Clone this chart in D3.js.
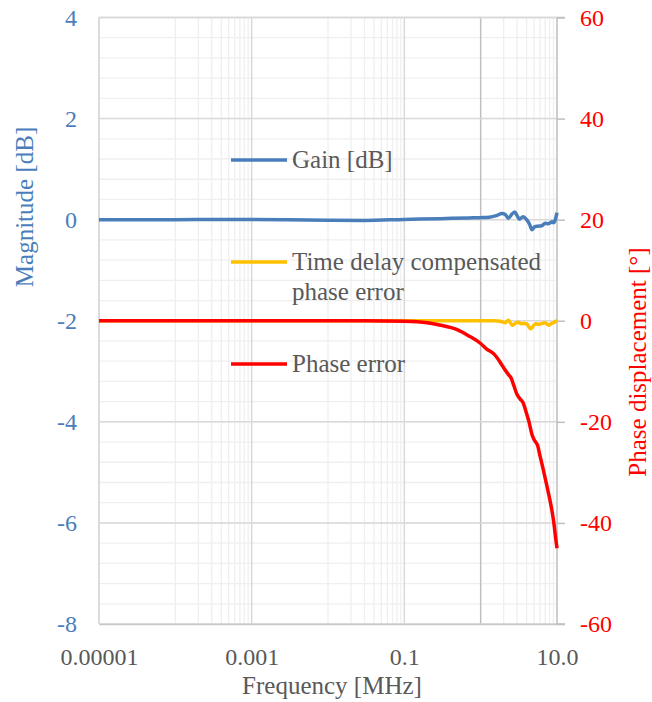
<!DOCTYPE html>
<html><head><meta charset="utf-8">
<script src="https://cdn.jsdelivr.net/npm/d3@7/dist/d3.min.js"></script>
<style>
html,body{margin:0;padding:0;background:#fff;}
svg{display:block;}
svg text{font-family:"Liberation Serif","Tinos","Times New Roman","DejaVu Serif","Noto Serif","FreeSerif",serif !important;}
</style></head>
<body><svg id="c" width="652" height="702"></svg>
<script>
// ---- data ----
const gainFreq = [1e-5, 1e-4, 1e-3, 0.003, 0.01, 0.03, 0.1, 0.3, 0.7, 1.0, 1.3, 1.6, 1.9, 2.1, 2.3, 2.6, 2.8, 3.0, 3.2, 3.6, 4.0, 4.4, 4.7, 5.1, 5.6, 6.3, 7.0, 7.6, 8.2, 8.6, 9.0, 9.5, 10.0];
const gainDb   = [0, 0, 0.005, 0, -0.01, -0.015, 0.005, 0.02, 0.035, 0.04, 0.05, 0.08, 0.12, 0.1, 0.03, 0.12, 0.15, 0.08, 0.01, 0.06, 0.0, -0.1, -0.2, -0.14, -0.13, -0.12, -0.07, -0.08, -0.06, -0.04, -0.06, 0.0, 0.14];
const compFreq = [1e-5, 1e-3, 0.1, 1.0, 1.5, 1.8, 2.1, 2.3, 2.6, 2.8, 3.1, 3.4, 3.6, 4.0, 4.5, 4.8, 5.2, 5.8, 6.5, 7.0, 7.8, 8.3, 9.0, 10.0];
const compDeg  = [0, 0, 0, 0, 0, -0.1, -0.4, 0.1, -0.9, -0.6, -0.3, -0.6, -0.5, -0.6, -1.6, -1.2, -0.6, -0.7, -0.5, -0.4, -0.9, -0.6, -0.4, 0.1];
const phaseFreq = [1e-5, 1e-3, 0.03, 0.1, 0.2, 0.3, 0.5, 0.7, 1.0, 1.2, 1.5, 1.8, 2.0, 2.3, 2.5, 2.7, 3.0, 3.3, 3.6, 4.0, 4.3, 4.7, 5.0, 5.6, 6.0, 6.6, 7.2, 7.7, 8.5, 9.1, 9.6, 10.0];
const phaseDeg  = [0, 0, 0, -0.1, -0.4, -0.9, -1.8, -3.0, -4.5, -5.6, -6.6, -8.2, -9.3, -10.6, -11.3, -12.7, -14.6, -15.5, -16.2, -18.4, -20, -22.5, -23.5, -24.8, -26.8, -29.4, -32, -34, -37.2, -40, -43, -45];
const xTickValues = [1e-5, 1e-3, 0.1, 10];
const xTickLabels = ["0.00001", "0.001", "0.1", "10.0"];
const yLeftTicks = [4, 2, 0, -2, -4, -6, -8];
const yRightTicks = [60, 40, 20, 0, -20, -40, -60];
const legendLabels = [["Gain [dB]"], ["Time delay compensated", "phase error"], ["Phase error"]];

// ---- layout ----
const L = 99, R = 557, T = 17.5, B = 624;
const blue = "#4a7ebb", yellow = "#ffc000", red = "#ff0000", grey = "#595959";
const fmt = d => String(d).replace("\u2212", "-");
const svg = d3.select("#c");
const x = d3.scaleLog().domain([1e-5, 10]).range([L, R]);
const yL = d3.scaleLinear().domain([-8, 4]).range([B, T]);
const yR = d3.scaleLinear().domain([-60, 60]).range([B, T]);

// grid
const g = svg.append("g");
const minorY = d3.range(-8, 4.0001, 0.4).map(v => +v.toFixed(1));
g.selectAll(".hm").data(minorY).enter().append("line")
  .attr("x1", L).attr("x2", R).attr("y1", d => yL(d)).attr("y2", d => yL(d))
  .attr("stroke", "#efefef").attr("stroke-width", 1.3);
const minorX = [];
[-4, -2, 0].forEach(e => { for (let m = 1; m <= 9; m++) minorX.push(m * Math.pow(10, e)); });
g.selectAll(".vm").data(minorX).enter().append("line")
  .attr("y1", T).attr("y2", B).attr("x1", d => x(d)).attr("x2", d => x(d))
  .attr("stroke", d => d === 1 ? "#bfbfbf" : "#efefef").attr("stroke-width", d => d === 1 ? 1.5 : 1.3);
g.selectAll(".hM").data(yLeftTicks).enter().append("line")
  .attr("x1", L).attr("x2", R).attr("y1", d => yL(d)).attr("y2", d => yL(d))
  .attr("stroke", "#d9d9d9").attr("stroke-width", 1.5);
g.selectAll(".vM").data(xTickValues.slice(0, 3)).enter().append("line")
  .attr("y1", T).attr("y2", B).attr("x1", d => x(d)).attr("x2", d => x(d))
  .attr("stroke", "#d9d9d9").attr("stroke-width", 1.5);

// axes
const ax = svg.append("g").attr("transform", `translate(0,${B})`)
  .call(d3.axisBottom(x).tickValues(xTickValues).tickFormat((d, i) => xTickLabels[i]).tickSize(0).tickPadding(24));
ax.select(".domain").attr("stroke", "#c8c8c8").attr("stroke-width", 1.5);
ax.selectAll("text").attr("fill", grey).attr("font-size", 24);

const al = svg.append("g").attr("transform", `translate(${L},0)`)
  .call(d3.axisLeft(yL).tickValues(yLeftTicks).tickFormat(fmt).tickSize(0).tickPadding(22));
al.select(".domain").remove();
al.selectAll("text").attr("fill", blue).attr("font-size", 24);

const ar = svg.append("g").attr("transform", `translate(${R},0)`)
  .call(d3.axisRight(yR).tickValues(yRightTicks).tickFormat(fmt).tickSize(8).tickPadding(15));
ar.select(".domain").attr("stroke", "#bfbfbf").attr("stroke-width", 1.5).attr("d", `M8,${T}H0V${B}H8`);
ar.selectAll(".tick line").attr("stroke", "#bfbfbf").attr("stroke-width", 1.5);
ar.selectAll("text").attr("fill", red).attr("font-size", 24);

// top / left border
svg.append("line").attr("x1", L).attr("x2", R).attr("y1", T).attr("y2", T).attr("stroke", "#d9d9d9").attr("stroke-width", 1.5);
svg.append("line").attr("x1", L).attr("x2", L).attr("y1", T).attr("y2", B).attr("stroke", "#d9d9d9").attr("stroke-width", 1.5);

// titles
svg.append("text").attr("x", (L + R) / 2 + 4).attr("y", 694).attr("text-anchor", "middle")
  .attr("font-size", 25).attr("fill", grey).text("Frequency [MHz]");
svg.append("text").attr("transform", "translate(33,207) rotate(-90)").attr("text-anchor", "middle")
  .attr("font-size", 25).attr("fill", blue).text("Magnitude [dB]");
svg.append("text").attr("transform", "translate(646,362) rotate(-90)").attr("text-anchor", "middle")
  .attr("font-size", 25).attr("fill", red).text("Phase displacement [°]");

// series
const lineL = d3.line().x(d => x(d[0])).y(d => yL(d[1])).curve(d3.curveMonotoneX);
const lineR = d3.line().x(d => x(d[0])).y(d => yR(d[1])).curve(d3.curveMonotoneX);
svg.append("path").datum(d3.zip(compFreq, compDeg)).attr("d", lineR)
  .attr("fill", "none").attr("stroke", yellow).attr("stroke-width", 3.5).attr("stroke-linejoin", "round");
svg.append("path").datum(d3.zip(phaseFreq, phaseDeg)).attr("d", lineR)
  .attr("fill", "none").attr("stroke", red).attr("stroke-width", 3.5).attr("stroke-linejoin", "round");
svg.append("path").datum(d3.zip(gainFreq, gainDb)).attr("d", lineL)
  .attr("fill", "none").attr("stroke", blue).attr("stroke-width", 3.5).attr("stroke-linejoin", "round");

// legend
const legColors = [blue, yellow, red];
const legY = [160, 262, 364];
legendLabels.forEach((lines, i) => {
  svg.append("line").attr("x1", 231).attr("x2", 287).attr("y1", legY[i]).attr("y2", legY[i])
    .attr("stroke", legColors[i]).attr("stroke-width", 3.5);
  lines.forEach((t, j) => {
    svg.append("text").attr("x", 292).attr("y", legY[i] + 8 + j * 30)
      .attr("font-size", 25).attr("fill", grey).text(t);
  });
});
</script></body></html>
